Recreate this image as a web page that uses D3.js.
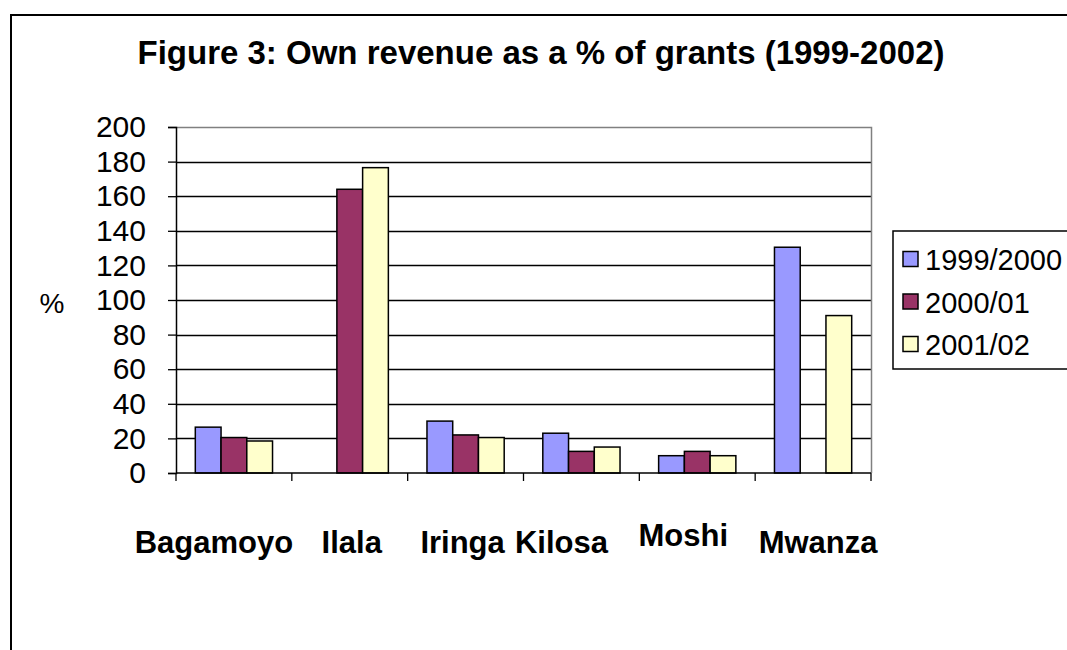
<!DOCTYPE html>
<html lang="en">
<head>
	<meta charset="utf-8">
	<title>Figure 3: Own revenue as a % of grants</title>
	<script src='https://d3js.org/d3.v7.min.js'></script>
	<style>
		body { margin: 0; background: #fff; }
		text { font-family: Arial, 'Liberation Sans', sans-serif; fill: #000; }
	</style>
</head>
<body>
	<div id="chart"></div>
	<script>
		// data
		let districts = ["Bagamoyo", "Ilala", "Iringa", "Kilosa", "Moshi", "Mwanza"];
		let seriesNames = ["1999/2000", "2000/01", "2001/02"];
		let values1999 = [26.5, null, 30, 23, 10, 130.5];
		let values2000 = [20.5, 164, 22, 12.5, 12.5, null];
		let values2001 = [18.5, 176.5, 20.5, 15, 10, 91];
		let yTicks = [0, 20, 40, 60, 80, 100, 120, 140, 160, 180, 200];
		let colors = ["#9999FF", "#993366", "#FFFFCC"];

		let seriesValues = [values1999, values2000, values2001];

		// the original places its category labels a little unevenly
		let labelDx = [-20, 2, -3, -20, -14, 5];
		let labelDy = [0, 0, 0, 0, -7, 0];

		let width = 1067;
		let height = 650;
		let plot = {left: 176, right: 871, top: 127, bottom: 473};

		let svg = d3.select("#chart")
			.append("svg")
			.attr("width", width)
			.attr("height", height);

		// outer chart frame (runs past the right and bottom edge)
		svg.append("rect")
			.attr("x", 11)
			.attr("y", 15)
			.attr("width", width + 20)
			.attr("height", height + 20)
			.attr("fill", "none")
			.attr("stroke", "#000")
			.attr("stroke-width", 2);

		svg.append("text")
			.attr("x", 541)
			.attr("y", 64)
			.attr("text-anchor", "middle")
			.attr("font-size", 33)
			.attr("font-weight", "bold")
			.text("Figure 3: Own revenue as a % of grants (1999-2002)");

		let x0 = d3.scaleBand()
			.domain(districts)
			.range([plot.left, plot.right])
			.padding(0);
		let x1 = d3.scaleBand()
			.domain(seriesNames)
			.range([0, x0.bandwidth()])
			.paddingInner(0)
			.paddingOuter(0.75);
		let y = d3.scaleLinear()
			.domain([0, 200])
			.range([plot.bottom, plot.top]);

		// gridlines
		svg.append("g")
			.selectAll("line")
			.data(yTicks.filter(d => d > 0 && d < 200))
			.enter()
			.append("line")
			.attr("x1", plot.left)
			.attr("x2", plot.right)
			.attr("y1", d => Math.round(y(d)) + 0.5)
			.attr("y2", d => Math.round(y(d)) + 0.5)
			.attr("stroke", "#000")
			.attr("stroke-width", 1.3);

		// plot area border (grey top and right)
		svg.append("path")
			.attr("d", "M" + plot.left + "," + (plot.top + 0.5) + "H" + (plot.right + 0.5) + "V" + plot.bottom)
			.attr("fill", "none")
			.attr("stroke", "#808080")
			.attr("stroke-width", 1.5);

		// bars
		let rows = [];
		districts.forEach(function(d, i) {
			seriesNames.forEach(function(s, j) {
				if (seriesValues[j][i] != null) {
					rows.push({district: d, series: s, value: seriesValues[j][i], k: j});
				}
			});
		});
		svg.append("g")
			.selectAll("rect")
			.data(rows)
			.enter()
			.append("rect")
			.attr("x", d => x0(d.district) + x1(d.series))
			.attr("y", d => y(d.value))
			.attr("width", x1.bandwidth())
			.attr("height", d => y(0) - y(d.value))
			.attr("fill", d => colors[d.k])
			.attr("stroke", "#000")
			.attr("stroke-width", 1.5);

		// y axis
		let yAxis = d3.axisLeft(y)
			.tickValues(yTicks)
			.tickSize(8)
			.tickPadding(22)
			.tickFormat(d3.format("d"));
		let gy = svg.append("g")
			.attr("transform", "translate(" + plot.left + ",0)")
			.call(yAxis);
		gy.select(".domain").attr("stroke", "#000").attr("stroke-width", 1.5);
		gy.selectAll(".tick line").attr("stroke", "#000").attr("stroke-width", 1.3);
		gy.selectAll(".tick text")
			.attr("font-size", 30)
			.attr("font-family", "Arial, 'Liberation Sans', sans-serif")
			.attr("fill", "#000");

		// x axis: ticks at category boundaries, bold labels underneath
		svg.append("line")
			.attr("x1", plot.left)
			.attr("x2", plot.right)
			.attr("y1", plot.bottom)
			.attr("y2", plot.bottom)
			.attr("stroke", "#000")
			.attr("stroke-width", 1.5);
		let bounds = districts.map(d => x0(d)).concat([plot.right]);
		svg.append("g")
			.selectAll("line")
			.data(bounds)
			.enter()
			.append("line")
			.attr("x1", d => d)
			.attr("x2", d => d)
			.attr("y1", plot.bottom)
			.attr("y2", plot.bottom + 8)
			.attr("stroke", "#000")
			.attr("stroke-width", 1.3);
		svg.append("g")
			.selectAll("text")
			.data(districts)
			.enter()
			.append("text")
			.attr("x", (d, i) => x0(d) + x0.bandwidth() / 2 + labelDx[i])
			.attr("y", (d, i) => 553 + labelDy[i])
			.attr("text-anchor", "middle")
			.attr("font-size", 31)
			.attr("font-weight", "bold")
			.text(d => d);

		// y axis title
		svg.append("text")
			.attr("x", 52)
			.attr("y", 313)
			.attr("text-anchor", "middle")
			.attr("font-size", 28)
			.text("%");

		// legend
		let legend = svg.append("g");
		legend.append("rect")
			.attr("x", 893)
			.attr("y", 231)
			.attr("width", 200)
			.attr("height", 138)
			.attr("fill", "#fff")
			.attr("stroke", "#000")
			.attr("stroke-width", 1.5);
		let items = legend.selectAll("g.item")
			.data(seriesNames)
			.enter()
			.append("g")
			.attr("class", "item")
			.attr("transform", (d, i) => "translate(903," + (259 + i * 42.5) + ")");
		items.append("rect")
			.attr("x", 0)
			.attr("y", -7.5)
			.attr("width", 15)
			.attr("height", 15)
			.attr("fill", (d, i) => colors[i])
			.attr("stroke", "#000")
			.attr("stroke-width", 1.5);
		items.append("text")
			.attr("x", 22)
			.attr("y", 11)
			.attr("font-size", 29)
			.text(d => d);
	</script>
</body>
</html>
